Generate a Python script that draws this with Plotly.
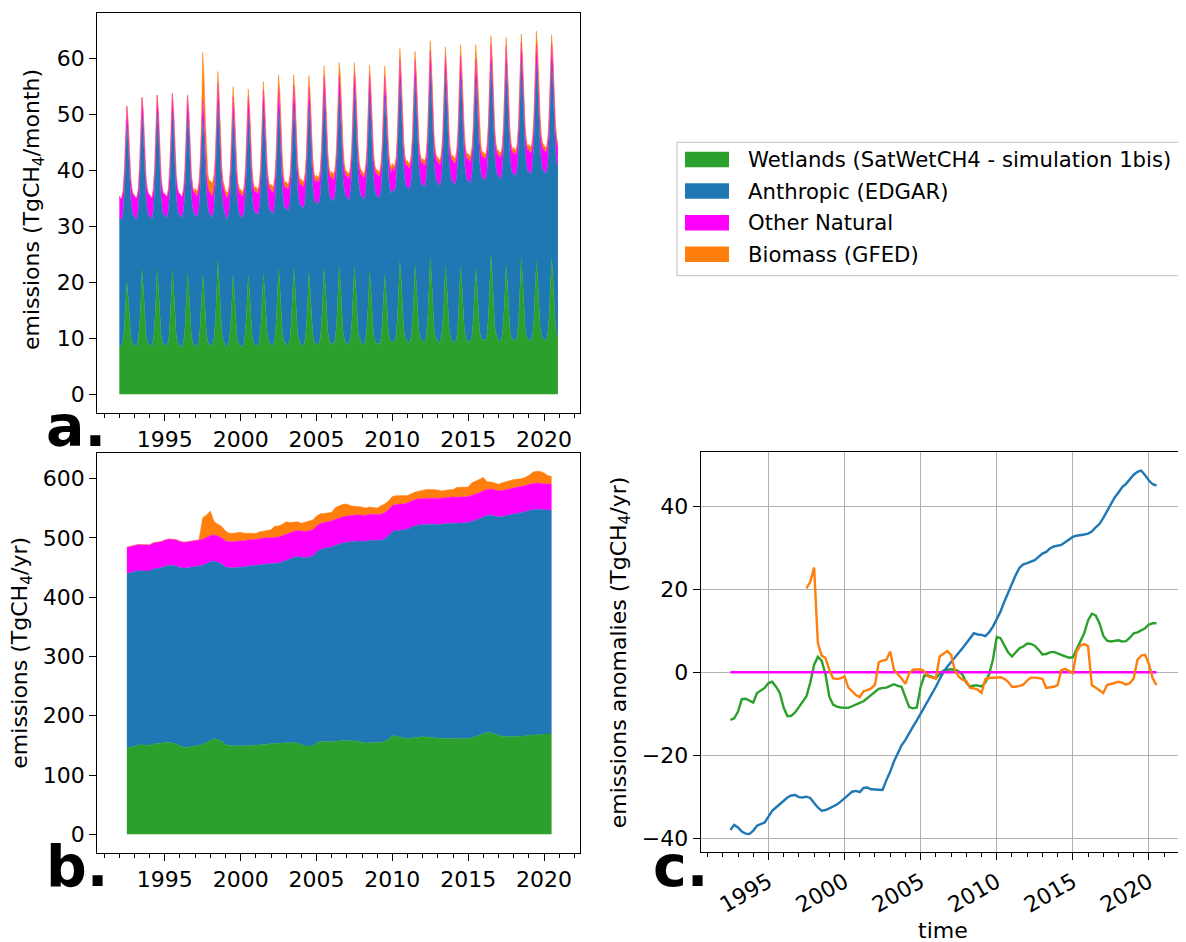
import pandas as pd
import plotly.graph_objects as go

W, H = 1186, 942
OFF = 8                      # default page margin around the plot div
FW, FH = W - OFF, H - OFF    # figure size so that the figure ends at the window edge

# ---------------- Panel a: monthly emissions (TgCH4/month), Jan 1992 - Dec 2020 -------------
wetlands_monthly = [
    8.7, 8.5, 8.7, 9.5, 11.8, 15.5, 20.1, 17.5, 12.9, 10.4, 9.3, 8.9,   # 1992
    8.7, 8.5, 8.7, 9.7, 12.3, 16.7, 22.2, 19.2, 13.7, 10.7, 9.5, 8.9,   # 1993
    8.8, 8.6, 8.7, 9.8, 12.4, 16.8, 22.2, 19.1, 13.6, 10.6, 9.4, 8.9,   # 1994
    8.8, 8.6, 8.8, 9.7, 12.3, 16.7, 22.2, 19.2, 13.7, 10.7, 9.4, 8.8,   # 1995
    8.6, 8.4, 8.6, 9.6, 12.1, 16.3, 21.6, 18.7, 13.4, 10.5, 9.3, 8.8,   # 1996
    8.7, 8.5, 8.7, 9.7, 12.1, 16.2, 21.3, 18.5, 13.4, 10.6, 9.4, 8.9,   # 1997
    8.9, 8.7, 8.9, 10.1, 12.9, 17.7, 23.7, 20.4, 14.4, 11.1, 9.8, 9.2,  # 1998
    8.6, 8.4, 8.6, 9.6, 12.0, 16.1, 21.3, 18.5, 13.3, 10.5, 9.3, 8.8,   # 1999
    8.6, 8.4, 8.6, 9.6, 12.0, 16.1, 21.3, 18.5, 13.3, 10.5, 9.3, 8.8,   # 2000
    8.8, 8.6, 8.8, 9.8, 12.2, 16.4, 21.6, 18.7, 13.5, 10.7, 9.5, 9.0,   # 2001
    8.9, 8.7, 8.9, 9.9, 12.6, 17.0, 22.5, 19.5, 13.9, 10.9, 9.7, 9.1,   # 2002
    9.0, 8.8, 9.0, 10.0, 12.6, 17.0, 22.5, 19.5, 14.0, 11.0, 9.8, 9.2,  # 2003
    8.8, 8.6, 8.8, 9.8, 12.2, 16.4, 21.6, 18.7, 13.5, 10.7, 9.5, 9.0,   # 2004
    9.0, 8.8, 9.0, 10.0, 12.6, 17.0, 22.5, 19.5, 14.0, 11.0, 9.8, 9.2,  # 2005
    9.1, 8.9, 9.1, 10.2, 12.8, 17.2, 22.8, 19.7, 14.2, 11.1, 9.9, 9.3,  # 2006
    9.1, 8.9, 9.1, 10.2, 12.8, 17.2, 22.8, 19.7, 14.2, 11.1, 9.9, 9.3,  # 2007
    9.0, 8.8, 9.0, 10.0, 12.5, 16.7, 21.9, 19.0, 13.8, 10.9, 9.7, 9.2,  # 2008
    9.1, 8.9, 9.1, 10.0, 12.4, 16.3, 21.3, 18.6, 13.6, 10.9, 9.8, 9.3,  # 2009
    9.5, 9.3, 9.5, 10.6, 13.3, 17.9, 23.7, 20.5, 14.8, 11.6, 10.3, 9.7, # 2010
    9.4, 9.2, 9.4, 10.5, 13.1, 17.5, 23.1, 20.0, 14.5, 11.4, 10.2, 9.6, # 2011
    9.5, 9.3, 9.5, 10.7, 13.5, 18.3, 24.3, 21.0, 15.0, 11.7, 10.4, 9.8, # 2012
    9.4, 9.2, 9.4, 10.5, 13.1, 17.5, 23.1, 20.0, 14.5, 11.4, 10.2, 9.6, # 2013
    9.4, 9.2, 9.4, 10.4, 13.0, 17.4, 22.8, 19.8, 14.4, 11.4, 10.2, 9.6, # 2014
    9.5, 9.3, 9.5, 10.5, 13.0, 17.2, 22.5, 19.6, 14.3, 11.4, 10.2, 9.7, # 2015
    9.8, 9.6, 9.8, 11.0, 13.9, 18.8, 24.9, 21.5, 15.4, 12.1, 10.7, 10.1, # 2016
    9.6, 9.4, 9.6, 10.6, 13.2, 17.6, 23.1, 20.1, 14.6, 11.6, 10.4, 9.8, # 2017
    9.7, 9.5, 9.7, 10.8, 13.6, 18.4, 24.3, 21.0, 15.1, 11.9, 10.5, 9.9, # 2018
    9.7, 9.5, 9.7, 10.8, 13.5, 18.0, 23.7, 20.6, 14.9, 11.8, 10.5, 9.9, # 2019
    9.8, 9.6, 9.8, 10.9, 13.7, 18.4, 24.3, 21.1, 15.2, 12.0, 10.6, 10.1, # 2020
]

anthropic_monthly = [
    22.9, 22.6, 22.6, 23.0, 24.1, 26.2, 27.9, 27.4, 26.0, 24.5, 23.5, 23.0,  # 1992
    23.0, 22.7, 22.7, 23.1, 24.2, 26.3, 27.4, 27.5, 26.1, 24.6, 23.6, 23.1,  # 1993
    23.0, 22.7, 22.7, 23.1, 24.2, 26.3, 27.8, 27.5, 26.1, 24.6, 23.6, 23.1,  # 1994
    23.2, 22.9, 22.9, 23.3, 24.4, 26.5, 28.1, 27.7, 26.3, 24.8, 23.8, 23.3,  # 1995
    23.4, 23.1, 23.1, 23.5, 24.6, 26.7, 28.4, 27.9, 26.5, 25.0, 24.0, 23.5,  # 1996
    23.4, 23.1, 23.1, 23.5, 24.6, 26.7, 27.8, 27.9, 26.5, 25.0, 24.0, 23.5,  # 1997
    23.2, 22.9, 22.9, 23.3, 24.4, 26.5, 28.5, 27.7, 26.3, 24.8, 23.8, 23.3,  # 1998
    23.2, 22.9, 22.9, 23.3, 24.4, 26.5, 28.4, 27.7, 26.3, 24.8, 23.8, 23.3,  # 1999
    23.4, 23.1, 23.1, 23.5, 24.6, 26.7, 28.3, 27.9, 26.5, 25.0, 24.0, 23.5,  # 2000
    23.7, 23.4, 23.4, 23.8, 24.9, 27.0, 29.3, 28.2, 26.8, 25.3, 24.3, 23.8,  # 2001
    23.8, 23.5, 23.5, 23.9, 25.0, 27.1, 28.6, 28.3, 26.9, 25.4, 24.4, 23.9,  # 2002
    24.3, 24.0, 24.0, 24.4, 25.5, 27.6, 29.1, 28.8, 27.4, 25.9, 24.9, 24.4,  # 2003
    24.9, 24.6, 24.6, 25.0, 26.1, 28.2, 29.9, 29.4, 28.0, 26.5, 25.5, 25.0,  # 2004
    25.5, 25.2, 25.2, 25.6, 26.7, 28.8, 30.9, 30.0, 28.6, 27.1, 26.1, 25.6,  # 2005
    25.9, 25.6, 25.6, 26.0, 27.1, 29.2, 30.5, 30.4, 29.0, 27.5, 26.5, 26.0,  # 2006
    26.1, 25.8, 25.8, 26.2, 27.3, 29.4, 31.2, 30.6, 29.2, 27.7, 26.7, 26.2,  # 2007
    26.3, 26.0, 26.0, 26.4, 27.5, 29.6, 32.0, 30.8, 29.4, 27.9, 26.9, 26.4,  # 2008
    26.4, 26.1, 26.1, 26.5, 27.6, 29.7, 32.1, 30.9, 29.5, 28.0, 27.0, 26.5,  # 2009
    27.1, 26.8, 26.8, 27.2, 28.3, 30.4, 32.8, 31.6, 30.2, 28.7, 27.7, 27.2,  # 2010
    27.7, 27.4, 27.4, 27.8, 28.9, 31.0, 33.2, 32.2, 30.8, 29.3, 28.3, 27.8,  # 2011
    28.0, 27.7, 27.7, 28.1, 29.2, 31.3, 33.6, 32.5, 31.1, 29.6, 28.6, 28.1,  # 2012
    28.3, 28.0, 28.0, 28.4, 29.5, 31.6, 34.0, 32.8, 31.4, 29.9, 28.9, 28.4,  # 2013
    28.5, 28.2, 28.2, 28.6, 29.7, 31.8, 34.2, 33.0, 31.6, 30.1, 29.1, 28.6,  # 2014
    28.7, 28.4, 28.4, 28.8, 29.9, 32.0, 34.0, 33.2, 31.8, 30.3, 29.3, 28.8,  # 2015
    28.9, 28.6, 28.6, 29.0, 30.1, 32.2, 34.2, 33.4, 32.0, 30.5, 29.5, 29.0,  # 2016
    29.3, 29.0, 29.0, 29.4, 30.5, 32.6, 35.7, 33.8, 32.4, 30.9, 29.9, 29.4,  # 2017
    29.8, 29.5, 29.5, 29.9, 31.0, 33.1, 35.1, 34.3, 32.9, 31.4, 30.4, 29.9,  # 2018
    30.1, 29.8, 29.8, 30.2, 31.3, 33.4, 35.2, 34.6, 33.2, 31.7, 30.7, 30.2,  # 2019
    30.1, 29.8, 29.8, 30.2, 31.3, 33.4, 35.0, 34.6, 33.2, 31.7, 30.7, 30.2,  # 2020
]

# climatological seasonal cycle of other natural sources (identical every year)
other_natural_climatology = [3.8, 3.8, 3.8, 3.7, 3.6, 3.5, 3.4, 3.4, 3.5, 3.6, 3.7, 3.8]

biomass_monthly = [
    0, 0, 0, 0, 0, 0, 0, 0, 0, 0, 0, 0,                                  # 1992
    0, 0, 0, 0, 0, 0, 0, 0, 0, 0, 0, 0,                                  # 1993
    0, 0, 0, 0, 0, 0, 0, 0, 0, 0, 0, 0,                                  # 1994
    0, 0, 0, 0, 0, 0, 0, 0, 0, 0, 0, 0,                                  # 1995
    0, 0, 0, 0, 0, 0, 0, 0, 0, 0, 0, 0,                                  # 1996
    0.9, 0.9, 1.0, 1.0, 1.1, 1.5, 8.5, 7.0, 6.0, 4.0, 2.3, 2.0,         # 1997
    2.2, 2.3, 2.4, 2.2, 1.8, 1.5, 2.0, 2.0, 1.8, 1.4, 0.9, 0.8,         # 1998
    0.8, 0.9, 0.9, 0.9, 0.9, 1.2, 1.8, 2.0, 2.0, 1.4, 0.9, 0.8,         # 1999
    0.8, 0.8, 0.8, 0.8, 0.8, 1.0, 1.5, 1.7, 1.6, 1.2, 0.8, 0.7,         # 2000
    0.8, 0.8, 0.8, 0.8, 0.8, 1.0, 1.5, 1.7, 1.6, 1.2, 0.8, 0.7,         # 2001
    1.0, 1.0, 1.1, 1.1, 1.2, 1.5, 2.5, 3.0, 3.2, 2.4, 1.1, 0.9,         # 2002
    0.9, 0.9, 1.0, 1.0, 1.0, 1.3, 2.0, 2.2, 2.2, 1.6, 1.0, 0.9,         # 2003
    0.9, 0.9, 1.0, 1.0, 1.0, 1.3, 2.0, 2.2, 2.2, 1.6, 1.0, 0.9,         # 2004
    0.8, 0.9, 0.9, 0.9, 0.9, 1.2, 1.8, 2.0, 2.0, 1.4, 0.9, 0.8,         # 2005
    1.0, 1.0, 1.1, 1.1, 1.2, 1.5, 2.5, 3.0, 3.2, 2.4, 1.1, 0.9,         # 2006
    0.8, 0.9, 0.9, 0.9, 0.9, 1.2, 1.8, 2.0, 2.0, 1.4, 0.9, 0.8,         # 2007
    0.8, 0.8, 0.8, 0.8, 0.8, 1.0, 1.5, 1.7, 1.6, 1.2, 0.8, 0.7,         # 2008
    0.8, 0.9, 0.9, 0.9, 0.9, 1.2, 1.8, 2.0, 2.0, 1.4, 0.9, 0.8,         # 2009
    0.8, 0.9, 0.9, 0.9, 0.9, 1.2, 1.8, 2.0, 2.0, 1.4, 0.9, 0.8,         # 2010
    0.8, 0.8, 0.8, 0.8, 0.8, 1.0, 1.5, 1.7, 1.6, 1.2, 0.8, 0.7,         # 2011
    0.8, 0.9, 0.9, 0.9, 0.9, 1.2, 1.8, 2.0, 2.0, 1.4, 0.9, 0.8,         # 2012
    0.8, 0.8, 0.8, 0.8, 0.8, 1.0, 1.5, 1.7, 1.6, 1.2, 0.8, 0.7,         # 2013
    0.9, 0.9, 1.0, 1.0, 1.0, 1.3, 2.0, 2.2, 2.2, 1.6, 1.0, 0.9,         # 2014
    1.0, 1.0, 1.1, 1.1, 1.2, 1.5, 2.5, 3.0, 4.0, 3.5, 1.5, 1.0,         # 2015
    0.8, 0.8, 0.8, 0.8, 0.8, 1.0, 1.5, 1.7, 1.6, 1.2, 0.8, 0.7,         # 2016
    0.8, 0.8, 0.8, 0.8, 0.8, 1.0, 1.5, 1.7, 1.6, 1.2, 0.8, 0.7,         # 2017
    0.8, 0.8, 0.8, 0.8, 0.8, 1.0, 1.5, 1.7, 1.6, 1.2, 0.8, 0.7,         # 2018
    1.0, 1.0, 1.1, 1.1, 1.2, 1.5, 2.5, 3.0, 3.2, 2.4, 1.1, 0.9,         # 2019
    0.8, 0.8, 0.8, 0.8, 0.8, 1.0, 1.5, 1.7, 1.6, 1.2, 0.8, 0.7,         # 2020
]

# ---------------- Panels b / c: 12-month running means, quarterly, 1992.5 - 2020.5 -------------
# anomalies (TgCH4/yr) relative to each source's mean annual emission
wetlands_anomaly = [
    -11.5, -11.1,
    -9.5, -6.5, -6.4, -6.8,   -7.3, -5.0, -4.4, -3.8,   -2.6, -2.3, -3.5, -5.0,
    -8.5, -10.6, -10.5, -9.7, -8.4, -7.2, -5.8, -2.5,   1.8, 3.7, 2.8, -0.5,
    -5.9, -7.8, -8.3, -8.5,   -8.6, -8.6, -8.2, -7.7,   -7.4, -7.0, -6.2, -5.5,
    -4.6, -4.0, -3.8, -3.7,   -3.3, -2.9, -3.3, -3.5,   -6.0, -8.4, -8.7, -8.5,
    -3.5, -0.8, -0.8, -1.2,   -1.5, -0.5, 0.4, 0.6,     0.7, 0.6, 0.2, -0.6,
    -2.5, -3.5, -3.2, -3.2,   -3.4, -2.5, -0.5, 3.0,    8.5, 8.2, 6.4, 4.8,
    3.8, 4.8, 5.8, 6.2,       6.9, 6.8, 6.4, 5.4,       4.3, 4.4, 4.8, 4.9,
    4.6, 4.2, 3.8, 3.5,       3.6, 5.4, 7.2, 9.4,       12.5, 14.1, 13.7, 11.8,
    8.8, 7.6, 7.4, 7.5,       7.7, 7.4, 7.5, 8.3,       9.4, 9.6, 10.1, 10.6,
    11.5, 11.8, 11.8,
]
anthropic_anomaly = [
    -38.0, -36.8,
    -37.4, -38.4, -38.9, -39.0,   -38.2, -37.0, -36.6, -36.2,   -34.8, -33.4, -32.6, -31.8,
    -31.0, -30.2, -29.7, -29.6,   -30.1, -30.2, -30.0, -30.3,   -31.5, -32.6, -33.4, -33.2,
    -32.8, -32.4, -31.9, -31.2,   -30.4, -29.6, -28.8, -28.6,   -28.9, -27.9, -27.8, -28.2,
    -28.3, -28.4, -28.4, -26.0,   -24.0, -21.5, -19.6, -17.6,   -16.3, -14.6, -13.1, -11.6,
    -10.0, -8.5, -6.9, -5.4,      -3.5, -1.7, 0.0, 1.3,         2.4, 3.4, 4.6, 5.8,
    7.0, 8.2, 9.4, 9.1,           9.0, 8.7, 9.6, 11.0,          12.8, 14.6, 17.0, 19.2,
    21.4, 23.4, 25.2, 26.0,       26.3, 26.6, 27.0, 27.8,       28.6, 29.0, 29.8, 30.3,
    30.5, 30.7, 31.3, 32.0,       32.6, 32.9, 33.0, 33.2,       33.4, 33.9, 34.9, 35.7,
    37.2, 38.8, 40.6, 42.1,       43.3, 44.6, 45.4, 46.6,       47.6, 48.3, 48.6, 47.5,
    46.2, 45.3, 45.0,
]
other_natural_anomaly = [0.0] * 113
# biomass burning (GFED) only available from 1997: first running-mean point is mid-1997
biomass_anomaly = [
    20.2, 21.8,
    25.2, 7.0, 4.0, 3.4,      0.6, -1.5, -1.6, -1.5,    -1.0, -3.7, -4.6, -5.5,
    -6.0, -4.6, -4.3, -3.9,   -3.0, 2.4, 2.8, 3.0,      5.0, 0.6, -0.5, -1.5,
    -2.8, -0.3, 0.6, 0.7,     0.7, 0.2, -1.0, -1.3,     -1.5, 3.8, 4.5, 5.1,
    4.2, 0.5, -1.0, -1.8,     -2.1, -3.8, -3.9, -4.2,   -5.0, -1.7, -1.4, -1.3,
    -1.2, -1.2, -1.6, -2.3,   -3.5, -3.5, -3.3, -3.0,   -2.0, -1.3, -1.3, -1.4,
    -1.6, -3.8, -3.6, -3.5,   -3.1, 0.5, 0.8, 0.2,      -0.2, 5.0, 6.4, 6.8,
    6.3, -3.1, -3.8, -4.4,    -5.0, -3.1, -2.8, -2.6,   -2.3, -2.5, -3.0, -2.6,
    -1.5, 3.0, 4.0, 4.2,      2.0, -1.5, -3.1,
]
# mean annual emissions (TgCH4/yr) used as reference for the anomalies
wetlands_mean = 157.5
anthropic_mean = 332.0
other_natural_mean = 44.0
biomass_mean = 16.0

names = ["Wetlands (SatWetCH4 - simulation 1bis)", "Anthropic (EDGAR)",
         "Other Natural", "Biomass (GFED)"]
colors = ["#2ca02c", "#1f77b4", "#ff00ff", "#ff7f0e"]

# ---------------- time axes ----------------
months = pd.date_range("1992-01-01", periods=len(wetlands_monthly), freq="MS")
quarters = pd.date_range("1992-07-01", periods=len(wetlands_anomaly), freq="3MS")
n_missing_bio = len(wetlands_anomaly) - len(biomass_anomaly)
quarters_bio = quarters[n_missing_bio:]

other_monthly = other_natural_climatology * (len(wetlands_monthly) // 12)

fig = go.Figure()

# panel a: stacked monthly emissions
for y, nm, c in zip([wetlands_monthly, anthropic_monthly, other_monthly, biomass_monthly],
                    names, colors):
    fig.add_trace(go.Scatter(x=months, y=y, name=nm, stackgroup="a", mode="lines",
                             line=dict(width=0.5, color=c), fillcolor=c,
                             xaxis="x", yaxis="y", showlegend=False))

# panel b: stacked annual (running mean) emissions
b_wet = [wetlands_mean + v for v in wetlands_anomaly]
b_ant = [anthropic_mean + v for v in anthropic_anomaly]
b_oth = [other_natural_mean + v for v in other_natural_anomaly]
b_bio = [biomass_mean + v for v in biomass_anomaly]
for xx, y, nm, c in zip([quarters, quarters, quarters, quarters_bio],
                        [b_wet, b_ant, b_oth, b_bio], names, colors):
    fig.add_trace(go.Scatter(x=xx, y=y, name=nm, stackgroup="b", mode="lines",
                             line=dict(width=0.5, color=c), fillcolor=c,
                             xaxis="x2", yaxis="y2", showlegend=False))

# panel c: anomalies
for xx, y, nm, c in zip([quarters, quarters, quarters, quarters_bio],
                        [wetlands_anomaly, anthropic_anomaly, other_natural_anomaly, biomass_anomaly],
                        names, colors):
    fig.add_trace(go.Scatter(x=xx, y=y, name=nm, mode="lines",
                             line=dict(width=2.4, color=c),
                             xaxis="x3", yaxis="y3", showlegend=False))

FONT = "DejaVu Sans"
FS = 22
FS_LEG = 21.2
xrange_ = ["1990-07-20", "2022-05-16"]


def px_x(p):
    return (p - OFF) / FW


def px_y(p):
    return 1 - (p - OFF) / FH


base_axis = dict(showline=True, linecolor="black", linewidth=1.3, mirror=True,
                 ticks="outside", ticklen=7, tickwidth=1.3, tickcolor="black",
                 zeroline=False, showgrid=False,
                 tickfont=dict(family=FONT, size=FS, color="black"))
date_axis = dict(base_axis, type="date", range=xrange_, tickformat="%Y",
                 dtick="M60", tick0="1990-01-01",
                 minor=dict(dtick="M12", tick0="1990-01-01", ticks="outside",
                            ticklen=4, tickwidth=1, tickcolor="black", showgrid=False))

fig.update_layout(
    width=FW, height=FH, autosize=False,
    margin=dict(l=0, r=0, t=0, b=0),
    paper_bgcolor="white", plot_bgcolor="white",
    font=dict(family=FONT, size=FS, color="black"),
    showlegend=False,
    xaxis=dict(date_axis, domain=[px_x(97.3), px_x(580)], anchor="y"),
    yaxis=dict(base_axis, domain=[px_y(412.7), px_y(12.7)], anchor="x",
               range=[-3.29, 68.1], dtick=10, tick0=0),
    xaxis2=dict(date_axis, domain=[px_x(97.3), px_x(580)], anchor="y2"),
    yaxis2=dict(base_axis, domain=[px_y(852.7), px_y(452.7)], anchor="x2",
                range=[-31, 643.5], dtick=100, tick0=0),
    xaxis3=dict(date_axis, domain=[px_x(700.7), px_x(1185)], anchor="y3",
                tickangle=-30, showgrid=True, gridcolor="#b0b0b0", gridwidth=1.2),
    yaxis3=dict(base_axis, domain=[px_y(852.3), px_y(452.3)], anchor="x3",
                range=[-43.4, 53.0], dtick=20, tick0=0,
                showgrid=True, gridcolor="#b0b0b0", gridwidth=1.2),
)

ann = []
# axis titles
ann.append(dict(text="emissions (TgCH<sub>4</sub>/month)", x=px_x(34), y=px_y(210),
                textangle=-90))
ann.append(dict(text="emissions (TgCH<sub>4</sub>/yr)", x=px_x(22), y=px_y(652.7),
                textangle=-90))
ann.append(dict(text="emissions anomalies (TgCH<sub>4</sub>/yr)", x=px_x(620), y=px_y(652.3),
                textangle=-90))
ann.append(dict(text="time", x=px_x(943), y=px_y(930)))
for a in ann:
    a.update(xref="paper", yref="paper", showarrow=False, xanchor="center",
             yanchor="middle", font=dict(family=FONT, size=FS, color="black"))

# panel letters
for txt, xp, yp in [("a.", 45, 426), ("b.", 45, 866), ("c.", 652, 866)]:
    ann.append(dict(text=f"<b>{txt}</b>", x=px_x(xp), y=px_y(yp), xref="paper",
                    yref="paper", showarrow=False, xanchor="left", yanchor="middle",
                    borderpad=0, font=dict(family=FONT, size=57, color="black")))

# legend (drawn as patches + text)
shapes = [dict(type="rect", xref="paper", yref="paper",
               x0=px_x(677), x1=px_x(1184.5), y0=px_y(275.7), y1=px_y(142.3),
               line=dict(color="#cccccc", width=1.3), fillcolor="white", layer="above")]
row_centers = [159.5, 191.0, 222.7, 254.3]
for nm, c, yc in zip(names, colors, row_centers):
    shapes.append(dict(type="rect", xref="paper", yref="paper",
                       x0=px_x(685), x1=px_x(729), y0=px_y(yc + 7.8), y1=px_y(yc - 7.8),
                       line=dict(width=0), fillcolor=c, layer="above"))
    ann.append(dict(text=nm, x=px_x(747.3), y=px_y(yc), xref="paper", yref="paper",
                    showarrow=False, xanchor="left", yanchor="middle", borderpad=0,
                    font=dict(family=FONT, size=FS_LEG, color="black")))

fig.update_layout(annotations=ann, shapes=shapes)

fig.write_html("out.html")
